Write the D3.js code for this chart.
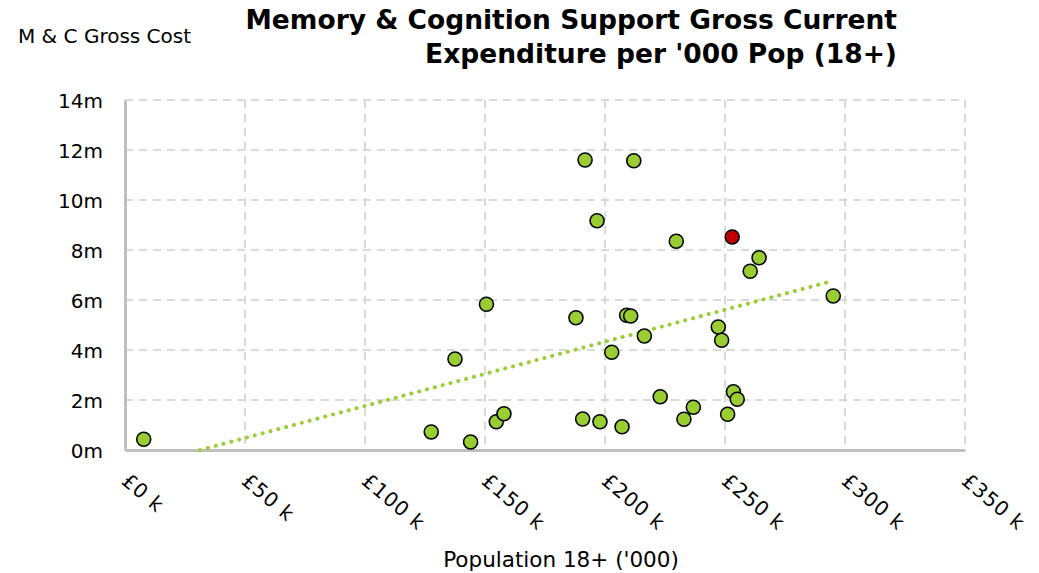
<!DOCTYPE html>
<html>
<head>
<meta charset="utf-8">
<script src="https://cdn.jsdelivr.net/npm/d3@7"></script>
<style>
  body { margin: 0; background: #fff; }
  svg text { font-family: Verdana, "DejaVu Sans", sans-serif; fill: #000; }
</style>
</head>
<body>
<svg width="1039" height="573"></svg>
<script>
// population 18+ ('000) vs M & C gross cost (m)
const population = [7.8, 127.6, 137.5, 144, 150.6, 154.7, 157.9, 187.9, 190.7, 191.7,
    196.7, 197.9, 202.8, 207.1, 209, 210.7, 212, 216.4, 223, 229.7,
    232.9, 236.8, 247.2, 248.6, 251.1, 253, 253.5, 255.1, 260.5, 264.2, 295.1];
const grossCost = [0.43, 0.72, 3.64, 0.32, 5.83, 1.13, 1.45, 5.29, 1.24, 11.6,
    9.17, 1.13, 3.91, 0.93, 5.39, 5.36, 11.57, 4.56, 2.13, 8.35,
    1.23, 1.71, 4.92, 4.39, 1.43, 8.52, 2.33, 2.03, 7.15, 7.69, 6.16];
const highlightIndex = 25;
const xTicks = [0, 50, 100, 150, 200, 250, 300, 350];
const yTicks = [0, 2, 4, 6, 8, 10, 12, 14];
// linear trendline as shown in the chart (m per k, m)
const trendSlope = 0.02566;
const trendIntercept = -0.802;

const svg = d3.select("svg");
const plotL = 125, plotR = 965, plotT = 100, plotB = 450;

const x = d3.scaleLinear().domain([0, 350]).range([plotL, plotR]);
const y = d3.scaleLinear().domain([0, 14]).range([plotB, plotT]);

// grid
svg.append("g").selectAll("line").data(yTicks.slice(1)).join("line")
    .attr("x1", plotL).attr("x2", plotR)
    .attr("y1", d => y(d)).attr("y2", d => y(d))
    .attr("stroke", "#d9d9d9").attr("stroke-width", 2)
    .attr("stroke-dasharray", "8,6");
svg.append("g").selectAll("line").data(xTicks.slice(1)).join("line")
    .attr("x1", d => x(d)).attr("x2", d => x(d))
    .attr("y1", plotT).attr("y2", plotB)
    .attr("stroke", "#d9d9d9").attr("stroke-width", 2)
    .attr("stroke-dasharray", "8,6");

// axes
const yAxis = svg.append("g")
    .attr("transform", `translate(${plotL},0)`)
    .call(d3.axisLeft(y).tickValues(yTicks).tickSize(0).tickPadding(22).tickFormat(d => d + "m"));
yAxis.select(".domain").attr("stroke", "#bfbfbf").attr("stroke-width", 3);
yAxis.selectAll("text").style("font-size", "20px").attr("dy", "0.35em");

const xAxis = svg.append("g")
    .attr("transform", `translate(0,${plotB})`)
    .call(d3.axisBottom(x).tickValues(xTicks).tickSize(0).tickFormat(d => "£" + d + " k"));
xAxis.select(".domain").attr("stroke", "#bfbfbf").attr("stroke-width", 3);
xAxis.selectAll("text")
    .style("font-size", "20px")
    .style("letter-spacing", "1px")
    .attr("text-anchor", "start")
    .attr("dy", 0).attr("y", 0)
    .attr("transform", "translate(-5,33) rotate(40)");

// trend line, clipped at zero
const x0 = Math.max(d3.min(population), -trendIntercept / trendSlope);
const x1 = d3.max(population);
svg.append("line")
    .attr("x1", x(x0)).attr("y1", y(trendIntercept + trendSlope * x0))
    .attr("x2", x(x1)).attr("y2", y(trendIntercept + trendSlope * x1))
    .attr("stroke", "#9acd32").attr("stroke-width", 4)
    .attr("stroke-linecap", "round").attr("stroke-dasharray", "0.1,8");

// points
svg.append("g").selectAll("circle").data(population).join("circle")
    .attr("cx", d => x(d))
    .attr("cy", (d, i) => y(grossCost[i]))
    .attr("r", 7)
    .attr("fill", (d, i) => i === highlightIndex ? "#c00000" : "#9acd32")
    .attr("stroke", "#000").attr("stroke-width", 1.6);

// titles
svg.append("text").attr("x", 18).attr("y", 43).style("font-size", "20px").text("M & C Gross Cost");
const title = svg.append("text").attr("text-anchor", "end").style("font-size", "26.5px").style("font-weight", "bold");
title.append("tspan").attr("x", 897).attr("y", 29).text("Memory & Cognition Support Gross Current");
title.append("tspan").attr("x", 897).attr("y", 63).text("Expenditure per '000 Pop (18+)");

svg.append("text").attr("x", 561).attr("y", 567).attr("text-anchor", "middle")
    .style("font-size", "21.5px").text("Population 18+ ('000)");
</script>
</body>
</html>
